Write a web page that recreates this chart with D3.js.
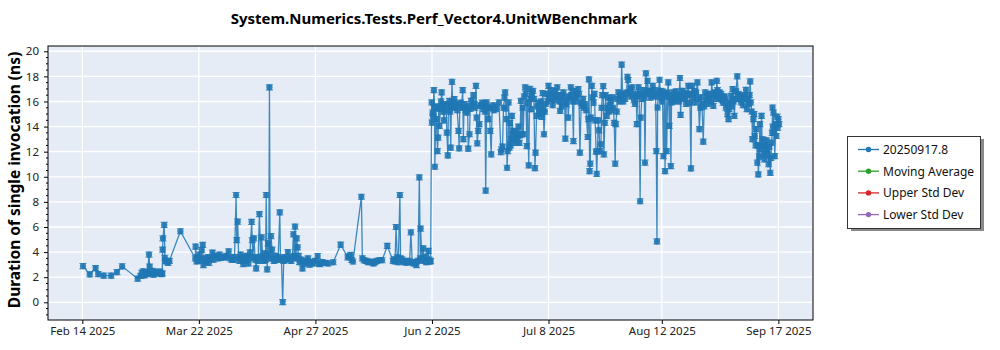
<!DOCTYPE html>
<html><head><meta charset="utf-8">
<script src="https://cdn.jsdelivr.net/npm/d3@7"></script>
<style>
body{margin:0;background:#fff;}
svg text{font-family:"Noto Sans","Open Sans",sans-serif;}
</style>
</head><body>
<svg id="chart" width="1000" height="350"></svg>
<script>
// ---------------- data ----------------
const chartTitle = "System.Numerics.Tests.Perf_Vector4.UnitWBenchmark";
const yAxisTitle = "Duration of single invocation (ns)";
const legendNames = ["20250917.8", "Moving Average", "Upper Std Dev", "Lower Std Dev"];
const legendColors = ["#1f77b4", "#2ca02c", "#d62728", "#9467bd"];
const xTickLabels = ["Feb 14 2025", "Mar 22 2025", "Apr 27 2025", "Jun 2 2025", "Jul 8 2025", "Aug 12 2025", "Sep 17 2025"];
const xTickDates = ["2025-02-14", "2025-03-22", "2025-04-27", "2025-06-02", "2025-07-08", "2025-08-12", "2025-09-17"];
const yTickValues = [0, 2, 4, 6, 8, 10, 12, 14, 16, 18, 20];
const startDate = "2025-02-14";
const xDomainDays = [-10.6, 225.7];   // days relative to startDate
const yDomain = [-1.41, 20.42];
const errorNs = 0.2;                  // half-width of the error bars

// run time (days since startDate) and measured duration (ns)
const runDay = [
0.2,2.3,4.1,4.9,6.6,8.9,10.7,12.3,17.1,18.0,
18.4,18.8,19.2,19.7,20.1,20.6,20.8,21.1,21.5,22.0,
22.5,23.1,23.5,24.0,24.5,24.7,24.8,24.9,25.3,25.5,
25.7,26.1,26.5,26.9,30.3,34.9,35.0,35.3,
35.6,35.9,36.2,36.5,36.9,37.2,37.4,37.8,38.1,38.4,
38.8,39.1,39.6,40.2,40.5,41.0,41.5,41.9,42.4,42.8,
43.6,44.1,44.5,45.2,45.6,46.2,46.6,47.0,47.5,47.7,
48.0,48.3,48.6,48.9,49.2,49.7,50.1,50.4,50.7,51.3,
51.5,51.8,52.3,52.5,52.7,53.0,53.4,53.7,54.0,54.3,
54.7,55.1,55.4,55.7,56.0,56.3,56.6,56.8,57.1,57.4,
57.6,57.8,58.0,58.3,58.6,58.9,59.2,59.7,60.1,60.5,
61.0,61.2,61.5,61.9,62.2,62.5,62.9,63.5,64.0,64.5,
64.9,65.2,65.5,65.7,66.0,66.2,66.5,66.8,67.1,67.6,
68.0,68.3,68.8,69.3,69.7,70.2,70.7,71.4,71.9,72.7,
73.1,73.4,74.0,75.0,75.9,77.5,79.8,82.0,82.5,82.9,
83.2,83.6,86.2,86.5,87.0,87.6,88.3,88.9,89.5,89.9,
90.4,91.0,92.0,92.6,94.2,96.0,96.3,96.6,96.9,97.3,
97.6,98.1,98.3,98.7,99.1,99.5,100.2,100.6,101.1,101.5,
101.9,102.3,102.8,103.2,103.7,104.1,104.4,104.5,104.9,105.3,
105.7,106.0,106.3,106.9,107.1,107.4,107.6,
107.9,108.0,108.2,108.3,108.6,108.8,108.9,109.2,109.4,109.7,
109.9,110.1,110.3,110.6,110.8,111.0,111.3,111.5,111.7,112.0,
112.4,112.6,112.9,113.1,113.4,113.6,113.8,114.0,114.2,114.4,
114.7,114.9,115.1,115.4,115.8,116.2,116.4,116.6,116.8,117.1,
117.5,117.7,117.9,118.2,118.5,118.8,119.0,119.2,119.6,119.8,
120.1,120.4,120.8,121.1,121.3,121.6,121.8,122.0,122.3,122.6,
122.9,123.2,123.5,123.9,124.2,124.4,124.6,124.9,125.2,125.4,
125.7,126.0,126.3,126.6,126.9,127.2,127.5,127.9,128.7,129.3,
129.5,129.8,130.1,130.4,130.6,130.8,131.0,131.2,131.4,131.7,
131.9,132.1,132.3,132.6,132.7,133.0,133.2,133.5,133.7,133.9,
134.1,134.4,134.7,135.0,135.2,135.5,135.8,136.0,136.2,136.5,
136.8,137.0,137.3,137.5,137.9,138.2,138.4,138.6,138.9,139.2,
139.5,139.8,140.0,140.3,140.5,140.8,141.1,141.4,141.7,141.9,
142.2,142.4,142.6,142.9,143.2,143.5,143.7,144.0,144.2,144.5,
144.7,145.0,145.3,145.5,145.8,146.0,146.3,146.7,147.0,147.3,
147.6,147.8,148.1,148.3,148.6,149.0,149.2,149.5,149.9,150.1,
150.4,150.9,151.1,151.4,151.7,151.9,152.2,152.5,152.8,153.2,
153.4,153.7,154.1,154.4,154.7,155.0,155.3,155.6,156.1,156.3,
156.5,156.7,156.9,157.1,157.4,157.6,157.9,158.2,158.4,158.7,
158.9,159.1,159.4,159.6,159.9,160.2,160.4,160.6,160.9,161.1,
161.4,161.6,162.0,162.2,162.5,162.7,163.0,163.3,163.5,163.8,
164.0,164.3,164.6,164.8,165.1,165.3,165.6,165.9,166.1,166.4,
166.6,166.9,167.1,167.4,167.7,168.1,168.4,168.6,168.9,169.2,
169.5,169.8,170.1,170.4,170.7,171.1,171.3,171.5,171.8,172.0,
172.3,172.5,172.8,173.1,173.3,173.6,173.8,174.1,174.4,174.6,
174.9,175.2,175.5,175.8,176.2,176.5,176.8,177.1,177.3,177.5,
177.7,177.9,178.3,178.5,178.7,179.0,179.2,179.5,179.8,180.0,
180.3,180.5,180.8,181.0,181.3,181.6,181.8,182.0,182.3,182.6,
182.9,183.1,183.4,183.7,184.0,184.3,184.6,184.8,185.0,185.3,
185.7,185.9,186.2,186.5,186.8,187.2,187.5,187.7,188.0,188.2,
188.4,188.8,189.0,189.3,189.6,190.0,190.3,190.6,190.9,191.1,
191.4,191.8,192.1,192.4,192.7,193.0,193.3,193.6,193.9,194.2,
194.4,194.7,194.9,195.2,195.5,195.8,196.0,196.2,196.5,196.8,
197.1,197.3,197.6,197.9,198.2,198.5,198.8,199.1,199.3,199.6,
199.8,200.1,200.4,200.6,200.9,201.2,201.4,201.7,201.9,202.3,
202.6,202.9,203.2,203.5,203.8,204.1,204.4,204.7,205.0,205.3,
205.5,205.8,206.1,206.3,206.5,206.8,207.0,207.3,207.5,207.7,
208.0,208.2,208.5,208.7,208.8,209.1,209.3,209.5,209.8,210.0,
210.2,210.4,210.7,210.9,211.2,211.4,211.6,211.8,212.0,212.2,
212.5,212.7,212.9,213.1,213.2,213.3,213.5,213.7,213.9,214.2,
214.4,214.6,214.8,215.0,215.2
];
const durationNs = [
2.89,2.23,2.73,2.25,2.12,2.12,2.41,2.87,1.88,2.1,
2.35,2.47,2.15,2.4,2.25,3.8,2.84,2.3,2.5,2.2,
2.45,2.3,2.35,2.45,2.25,2.3,4.2,5.1,6.16,3.55,
3.3,3.24,3.15,3.3,5.66,3.5,4.43,3.25,
3.6,3.3,3.8,3.4,4.17,4.57,2.97,3.5,3.2,3.37,
3.6,3.15,3.5,3.95,3.4,3.7,3.69,3.5,3.8,3.55,
3.58,3.6,3.7,4.06,3.5,3.37,3.6,3.4,8.55,4.96,
6.42,3.6,3.3,3.8,3.5,3.05,3.6,3.3,3.7,3.1,
3.5,3.98,6.4,4.96,3.6,5.1,3.4,2.7,3.6,3.3,
7.03,3.5,5.18,3.7,3.3,3.9,3.4,8.55,2.63,4.7,
3.5,17.13,3.8,5.28,4.2,3.5,3.3,3.7,3.37,3.6,
7.17,3.5,3.4,0.02,3.3,3.6,3.4,4.0,3.5,3.3,
3.6,5.42,3.7,6.03,3.5,5.1,4.38,3.7,3.2,3.4,
2.7,3.3,3.1,3.24,3.5,3.0,3.2,3.1,3.3,3.69,
3.1,3.05,3.2,3.15,3.1,3.19,4.59,3.58,3.69,3.77,
3.37,3.25,8.41,3.5,3.35,3.3,3.2,3.24,3.2,3.1,
3.2,3.3,3.37,3.35,4.49,3.3,3.42,3.25,6.0,3.58,
3.2,8.55,3.5,3.42,3.3,3.2,3.16,3.3,3.25,5.58,
3.2,3.1,3.2,2.97,3.3,9.96,3.5,5.87,3.4,4.3,
3.3,3.6,3.2,4.09,3.4,3.24,3.3,
15.92,14.32,15.12,14.8,16.9,15.6,10.8,15.47,14.6,12.05,
13.12,15.6,14.05,15.4,16.0,16.72,15.65,15.2,14.5,15.8,
15.3,13.52,11.7,15.7,16.05,15.2,12.32,15.6,17.57,15.65,
15.9,16.18,15.5,15.8,15.3,13.65,12.27,15.7,15.9,15.5,
16.9,13.0,15.52,15.8,15.3,15.12,15.6,12.24,13.39,15.4,
16.05,15.6,16.5,15.8,15.5,17.25,14.72,12.67,13.65,14.19,
15.7,15.65,15.9,15.39,15.8,15.2,8.9,15.92,15.6,14.59,
15.5,13.65,11.79,15.44,15.7,15.3,15.6,15.4,15.92,11.97,
12.19,12.4,15.5,16.3,16.72,15.44,14.6,10.72,12.05,15.92,
12.32,14.3,12.5,13.0,14.85,13.4,13.65,13.0,12.7,13.52,
12.9,13.3,14.0,12.7,13.3,16.05,13.4,15.5,13.39,16.4,
17.12,16.6,12.45,15.9,10.91,17.0,16.2,15.39,16.6,16.85,
16.2,10.69,11.92,14.85,15.6,15.9,15.3,15.0,16.0,14.77,
16.67,15.5,13.39,15.2,15.8,16.59,16.0,17.25,16.6,16.2,
16.9,16.32,15.7,16.4,16.1,16.85,16.3,17.12,16.5,16.0,
15.25,16.3,15.6,16.5,16.72,16.0,13.04,15.79,16.3,14.72,
16.4,17.12,16.5,16.0,12.85,16.85,16.4,16.0,16.5,16.99,
16.6,11.92,15.9,15.65,16.2,15.5,15.79,15.3,13.17,14.6,
17.76,10.45,11.04,14.72,17.25,16.32,15.9,16.6,14.5,12.0,
10.24,12.05,14.5,13.7,12.05,12.59,15.5,16.5,17.23,11.79,
14.3,16.5,14.85,15.5,16.3,15.2,15.65,16.1,15.3,16.32,
15.5,14.3,11.04,14.19,15.2,16.2,16.72,16.0,16.5,16.2,
18.93,16.45,16.0,16.6,16.2,16.7,17.97,17.71,16.7,17.0,
16.4,17.12,16.6,16.1,15.8,16.4,14.19,16.5,17.12,16.6,
8.05,14.72,16.2,16.6,16.9,16.3,11.12,18.24,16.8,17.65,
16.6,16.85,16.3,16.8,17.25,16.5,16.9,16.4,12.05,4.85,
15.52,16.6,17.73,16.85,16.32,16.0,16.8,11.65,16.6,10.45,
16.4,12.05,16.7,17.52,14.05,16.4,10.85,15.92,16.5,16.72,
16.0,16.32,16.8,16.2,16.5,16.0,17.87,14.93,16.4,16.85,
16.2,16.7,16.19,15.8,16.6,17.25,16.5,15.9,10.67,16.6,
17.25,16.3,16.8,15.92,16.7,17.52,16.2,13.79,15.5,16.32,
15.8,12.8,15.6,16.72,16.1,16.5,15.8,16.19,16.6,16.0,
17.52,16.6,15.65,16.5,16.72,16.2,17.65,16.9,16.4,16.72,
16.2,16.6,16.1,15.9,16.4,16.32,15.5,15.92,15.0,14.59,
15.39,15.9,16.45,15.6,16.99,16.0,14.85,16.2,16.8,18.0,
16.6,16.19,16.4,15.92,16.5,15.7,16.4,16.2,16.93,15.39,
16.2,15.8,16.5,17.6,15.92,15.2,13.0,14.59,14.99,13.25,
12.5,13.8,11.12,12.5,10.19,11.6,14.19,12.2,14.85,12.45,
12.99,11.8,11.39,12.5,12.0,12.9,12.2,11.7,11.0,12.4,
10.32,11.5,12.72,13.5,15.52,14.0,15.12,13.5,11.65,14.2,
13.25,14.8,13.9,14.59,14.2
];
if (runDay.length !== durationNs.length) throw new Error("length mismatch " + runDay.length + " vs " + durationNs.length);

// ---------------- layout ----------------
const plot = {left: 48, right: 813, top: 46, bottom: 320};
const FONT = '"Noto Sans","Open Sans",sans-serif';
const svg = d3.select("#chart");
const parse = d3.utcParse("%Y-%m-%d");
const t0 = parse(startDate);
const dayToDate = d => new Date(t0.getTime() + d * 864e5);
const data = runDay.map((d, i) => ({date: dayToDate(d), v: durationNs[i]}));

const x = d3.scaleUtc().domain(xDomainDays.map(dayToDate)).range([plot.left, plot.right]);
const y = d3.scaleLinear().domain(yDomain).range([plot.bottom, plot.top]);

// background
svg.append("rect").attr("x", plot.left).attr("y", plot.top)
  .attr("width", plot.right - plot.left).attr("height", plot.bottom - plot.top)
  .attr("fill", "#e5ecf6");

// gridlines
const tickDates = xTickDates.map(parse);
svg.append("g").selectAll("line").data(tickDates).join("line")
  .attr("x1", d => x(d)).attr("x2", d => x(d))
  .attr("y1", plot.top).attr("y2", plot.bottom)
  .attr("stroke", "#fff").attr("stroke-width", 1.3);
svg.append("g").selectAll("line").data(yTickValues).join("line")
  .attr("x1", plot.left).attr("x2", plot.right)
  .attr("y1", d => y(d)).attr("y2", d => y(d))
  .attr("stroke", "#fff").attr("stroke-width", 1.3);

// clip
svg.append("clipPath").attr("id", "clip").append("rect")
  .attr("x", plot.left).attr("y", plot.top)
  .attr("width", plot.right - plot.left).attr("height", plot.bottom - plot.top);
const g = svg.append("g").attr("clip-path", "url(#clip)");

const color = legendColors[0];
// line
g.append("path").datum(data)
  .attr("d", d3.line().x(d => x(d.date)).y(d => y(d.v)))
  .attr("fill", "none").attr("stroke", color).attr("stroke-width", 1.3).attr("stroke-opacity", 0.85);

// error bars
const eb = g.append("g").attr("stroke", color).attr("stroke-width", 1.2).attr("stroke-opacity", 0.8);
eb.selectAll("path").data(data).join("path")
  .attr("d", d => {
    const cx = x(d.date), y1 = y(d.v + errorNs), y2 = y(d.v - errorNs);
    return `M${cx-3.5},${y1}H${cx+3.5}M${cx},${y1}V${y2}M${cx-3.5},${y2}H${cx+3.5}`;
  });

// markers
g.append("g").selectAll("circle").data(data).join("circle")
  .attr("cx", d => x(d.date)).attr("cy", d => y(d.v)).attr("r", 3.1)
  .attr("fill", color).attr("fill-opacity", 0.9);

// frame
svg.append("rect").attr("x", plot.left).attr("y", plot.top)
  .attr("width", plot.right - plot.left).attr("height", plot.bottom - plot.top)
  .attr("fill", "none").attr("stroke", "#000").attr("stroke-width", 1);

// x axis
const xAxis = d3.axisBottom(x).tickValues(tickDates).tickSize(4).tickPadding(3)
  .tickFormat((d, i) => xTickLabels[i]);
const gx = svg.append("g").attr("transform", `translate(0,${plot.bottom})`).call(xAxis);
gx.select(".domain").remove();
gx.selectAll("text").attr("font-size", 11.5).attr("fill", "#222").style("font-family", FONT);

// y axis major
const yAxis = d3.axisLeft(y).tickValues(yTickValues).tickSize(4).tickPadding(5).tickFormat(d3.format("d"));
const gy = svg.append("g").attr("transform", `translate(${plot.left},0)`).call(yAxis);
gy.select(".domain").remove();
gy.selectAll("text").attr("font-size", 11.5).attr("fill", "#222").style("font-family", FONT);
// y axis minor
const minor = d3.range(-1, 20.01, 0.5).filter(v => !yTickValues.includes(v));
svg.append("g").selectAll("line").data(minor).join("line")
  .attr("x1", plot.left - 2).attr("x2", plot.left)
  .attr("y1", d => y(d)).attr("y2", d => y(d)).attr("stroke", "#000");

// title
svg.append("text").attr("x", 434).attr("y", 18).attr("text-anchor", "middle")
  .attr("dominant-baseline", "central").attr("font-size", 15).attr("font-weight", "bold")
  .attr("fill", "#000").text(chartTitle);

// y title
svg.append("text").attr("transform", "translate(14,180) rotate(-90)")
  .attr("text-anchor", "middle").attr("dominant-baseline", "central")
  .attr("font-size", 15.5).attr("font-weight", "bold").attr("fill", "#000").text(yAxisTitle);

// legend
const lg = svg.append("g");
lg.append("rect").attr("x", 851).attr("y", 139).attr("width", 133).attr("height", 92).attr("fill", "#8a8a8a");
lg.append("rect").attr("x", 847.5).attr("y", 136.5).attr("width", 133).attr("height", 92)
  .attr("fill", "#fff").attr("stroke", "#333").attr("stroke-width", 1);
const items = lg.selectAll("g.item").data(legendNames).join("g")
  .attr("transform", (d, i) => `translate(0,${149.5 + i * 21.7})`);
items.append("line").attr("x1", 858).attr("x2", 879).attr("y1", 0).attr("y2", 0)
  .attr("stroke", (d, i) => legendColors[i]).attr("stroke-width", 1.3);
items.append("circle").attr("cx", 868.5).attr("cy", 0).attr("r", 2.7)
  .attr("fill", (d, i) => legendColors[i]);
items.append("text").attr("x", 883).attr("y", 0).attr("dominant-baseline", "central")
  .attr("font-size", 12).attr("fill", "#111").text(d => d);
</script>
</body></html>
